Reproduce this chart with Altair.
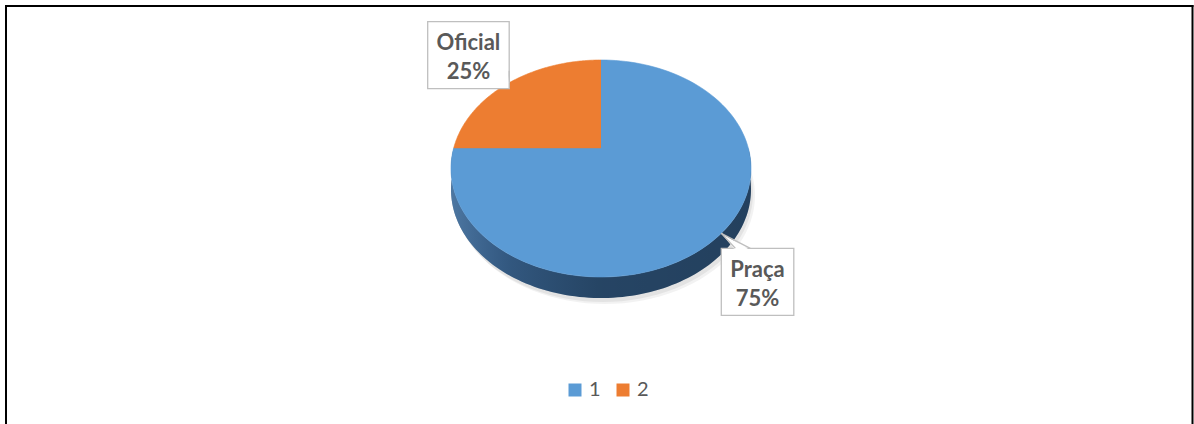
import math
import altair as alt
import pandas as pd

# ---- data ----
categories = ["1", "2"]
names = ["Praça", "Oficial"]
values = [75, 25]

# ---- styles / layout ----
colors = ["#5b9bd5", "#ed7d31"]
side_colors = ["#2b4e72", "#9a4f1a"]
TEXT_COLOR = "#595959"
FONT = "Lato"

CX, CY, RX, RY = 601, 168.5, 150, 108.5   # ellipse of the top face (px)
C = 0.19                                   # perspective shift of the pie centre
K = math.sqrt(1 - C * C)
DEPTH = 21
N = 120
GX, GY = 0, -6

df = pd.DataFrame({"cat": categories, "name": names, "value": values})

X_SCALE = alt.Scale(domain=[0, 1194], nice=False, zero=False)
Y_SCALE = alt.Scale(domain=[0, 424], nice=False, zero=False, reverse=True)


def proj_x(X, Z):
    return f"{CX}+{RX}*({X})*{K}/(1+{C}*({Z}))"


def proj_y(X, Z):
    return f"{CY}-{RY}*(({Z})+{C})/(1+{C}*({Z}))"


def xy(xf, yf):
    return dict(
        x=alt.X(f"{xf}:Q", scale=X_SCALE, axis=None),
        y=alt.Y(f"{yf}:Q", scale=Y_SCALE, axis=None),
    )


base = (
    alt.Chart(df)
    .transform_joinaggregate(total="sum(value)")
    .transform_window(cum="sum(value)", sort=[alt.SortField("cat")])
    .transform_calculate(a0="2*PI*(datum.cum-datum.value)/datum.total")
    .transform_calculate(a1="2*PI*datum.cum/datum.total")
)

# ---- shadow under the pie ----
def shadow_layer(dx, dy, op):
    return (
        alt.Chart(alt.sequence(0, N + 1, as_="k"))
        .transform_calculate(ang=f"2*PI*datum.k/{N}")
        .transform_calculate(X="sin(datum.ang)")
        .transform_calculate(Z="cos(datum.ang)")
        .transform_calculate(px=proj_x("datum.X", "datum.Z") + f"+{dx}")
        .transform_calculate(py=proj_y("datum.X", "datum.Z") + f"+{DEPTH + dy}")
        .mark_line(fill="#000000", fillOpacity=op, strokeWidth=0)
        .encode(order=alt.Order("k:Q"), **xy("px", "py"))
    )

shadow1 = shadow_layer(2, 4, 0.06)
shadow2 = shadow_layer(4, 6, 0.05)

# ---- side (depth) of the pie ----
side_data = (
    base
    .transform_calculate(s0="max(datum.a0,PI/2)")
    .transform_calculate(s1="min(datum.a1,3*PI/2)")
    .transform_filter("datum.s1>datum.s0")
    .transform_calculate(ks=f"sequence(0,{2 * N})")
    .transform_flatten(["ks"], as_=["k"])
    .transform_calculate(t=f"datum.k<{N}?datum.k/{N - 1}:({2 * N - 1}-datum.k)/{N - 1}")
    .transform_calculate(ang="datum.s0+(datum.s1-datum.s0)*datum.t")
    .transform_calculate(dz=f"datum.k<{N}?0:{DEPTH}")
    .transform_calculate(X="sin(datum.ang)")
    .transform_calculate(Z="cos(datum.ang)")
    .transform_calculate(px=proj_x("datum.X", "datum.Z"))
    .transform_calculate(py=proj_y("datum.X", "datum.Z") + "+datum.dz")
)

side = side_data.mark_line(strokeWidth=0).encode(
    order=alt.Order("k:Q"),
    detail="cat:N",
    fill=alt.Fill("cat:N", scale=alt.Scale(domain=categories, range=side_colors), legend=None),
    **xy("px", "py"),
)

side_shade = side_data.mark_line(
    strokeWidth=0,
    fill=alt.LinearGradient(
        gradient="linear",
        x1=0, x2=1, y1=0, y2=0,
        stops=[
            alt.GradientStop(color="rgba(120,170,220,0.45)", offset=0),
            alt.GradientStop(color="rgba(90,140,200,0.15)", offset=0.2),
            alt.GradientStop(color="rgba(0,0,0,0.12)", offset=0.5),
            alt.GradientStop(color="rgba(0,0,0,0.18)", offset=1),
        ],
    ),
).encode(order=alt.Order("k:Q"), detail="cat:N", **xy("px", "py"))

# ---- top face slices ----
top = (
    base
    .transform_calculate(ks=f"sequence(0,{N + 1})")
    .transform_flatten(["ks"], as_=["k"])
    .transform_calculate(ang=f"datum.a0+(datum.a1-datum.a0)*max(datum.k-1,0)/{N - 1}")
    .transform_calculate(r="datum.k==0?0:1")
    .transform_calculate(X="datum.r*sin(datum.ang)")
    .transform_calculate(Z="datum.r*cos(datum.ang)")
    .transform_calculate(px=proj_x("datum.X", "datum.Z"))
    .transform_calculate(py=proj_y("datum.X", "datum.Z"))
    .mark_line(strokeWidth=0.6)
    .encode(
        order=alt.Order("k:Q"),
        detail="cat:N",
        fill=alt.Fill(
            "cat:N",
            scale=alt.Scale(domain=categories, range=colors),
            legend=alt.Legend(
                orient="none", legendX=565, legendY=380, direction="horizontal",
                title=None, symbolType="square", symbolSize=169, symbolStrokeWidth=0,
                labelFontSize=20, labelFont=FONT, labelColor=TEXT_COLOR,
                labelOffset=4, columnPadding=12, padding=0,
            ),
        ),
        stroke=alt.Stroke("cat:N", scale=alt.Scale(domain=categories, range=colors), legend=None),
        **xy("px", "py"),
    )
)

# ---- data labels (callouts) ----
lab = (
    base
    .transform_calculate(am="(datum.a0+datum.a1)/2")
    .transform_calculate(X="sin(datum.am)")
    .transform_calculate(Z="cos(datum.am)")
    .transform_calculate(tx=proj_x("datum.X", "datum.Z"))
    .transform_calculate(ty=proj_y("datum.X", "datum.Z"))
    .transform_calculate(sx="datum.X>=0?1:-1")
    .transform_calculate(sy="datum.Z>=0?1:-1")
    .transform_calculate(hw="(50+4.5*length(datum.name))/2")
    .transform_calculate(hh="33.5")
    .transform_calculate(bx=f"datum.tx+datum.sx*(datum.hw+{GX})")
    .transform_calculate(by=f"datum.ty-datum.sy*(datum.hh+{GY})+(datum.sy<0?{DEPTH}:0)")
    .transform_calculate(bl="datum.bx-datum.hw")
    .transform_calculate(br="datum.bx+datum.hw")
    .transform_calculate(bt="datum.by-datum.hh")
    .transform_calculate(bb="datum.by+datum.hh")
    .transform_calculate(cxn="datum.bx-datum.sx*datum.hw")
    .transform_calculate(cyn="datum.by+datum.sy*datum.hh")
    .transform_calculate(gap="datum.sy>0?datum.ty-datum.cyn:datum.cyn-datum.ty")
    .transform_calculate(hz="datum.gap>4?1:0")
    .transform_calculate(p1x="datum.hz?datum.cxn+datum.sx*14:datum.cxn")
    .transform_calculate(p1y="datum.hz?datum.cyn:datum.cyn-datum.sy*6")
    .transform_calculate(p2x="datum.hz?datum.cxn+datum.sx*29:datum.cxn")
    .transform_calculate(p2y="datum.hz?datum.cyn:datum.cyn-datum.sy*18")
    .transform_calculate(label="datum.name+'\\n'+format(datum.value/datum.total,'.0%')")
)

box = lab.mark_rect(fill="white", stroke="#bfbfbf", strokeWidth=1.3).encode(
    x=alt.X("bl:Q", scale=X_SCALE, axis=None),
    x2="br:Q",
    y=alt.Y("bt:Q", scale=Y_SCALE, axis=None),
    y2="bb:Q",
)

erase = (
    lab
    .transform_calculate(ks="sequence(0,3)")
    .transform_flatten(["ks"], as_=["k"])
    .transform_calculate(ix="datum.hz?0:datum.sx*2")
    .transform_calculate(iy="datum.hz?-datum.sy*2:0")
    .transform_calculate(qx="datum.k==0?datum.p1x+datum.ix:(datum.k==1?datum.tx:datum.p2x+datum.ix)")
    .transform_calculate(qy="datum.k==0?datum.p1y+datum.iy:(datum.k==1?datum.ty:datum.p2y+datum.iy)")
    .mark_line(fill="white", strokeWidth=0)
    .encode(order=alt.Order("k:Q"), detail="cat:N", **xy("qx", "qy"))
)

ptr1 = lab.mark_rule(color="#bfbfbf", strokeWidth=1.3).encode(
    x=alt.X("p1x:Q", scale=X_SCALE, axis=None), y=alt.Y("p1y:Q", scale=Y_SCALE, axis=None),
    x2="tx:Q", y2="ty:Q",
)
ptr2 = lab.mark_rule(color="#bfbfbf", strokeWidth=1.3).encode(
    x=alt.X("p2x:Q", scale=X_SCALE, axis=None), y=alt.Y("p2y:Q", scale=Y_SCALE, axis=None),
    x2="tx:Q", y2="ty:Q",
)

text = lab.mark_text(
    lineBreak="\n", font=FONT, fontWeight="bold", fontSize=22, color=TEXT_COLOR,
    lineHeight=29, align="center", baseline="middle", dy=-12,
).encode(text="label:N", **xy("bx", "by"))

# ---- outer frame ----
one = pd.DataFrame({"a": [0]})
frame_top = alt.Chart(one).mark_rule(color="black", strokeWidth=2).encode(
    x=alt.value(5), x2=alt.value(1193.5), y=alt.value(6))
frame_left = alt.Chart(one).mark_rule(color="black", strokeWidth=2).encode(
    x=alt.value(6), y=alt.value(5), y2=alt.value(424))
frame_right = alt.Chart(one).mark_rule(color="black", strokeWidth=2).encode(
    x=alt.value(1192.5), y=alt.value(5), y2=alt.value(424))

chart = (
    alt.layer(
        shadow2, shadow1, side, side_shade, top,
        box, erase, ptr1, ptr2, text,
        frame_top, frame_left, frame_right,
    )
    .resolve_scale(fill="independent")
    .properties(width=1194, height=424, padding=0, autosize="none", background="white")
    .configure_view(stroke="transparent")
)

chart.save("out.html", embed_options={"renderer": "svg", "actions": False})
